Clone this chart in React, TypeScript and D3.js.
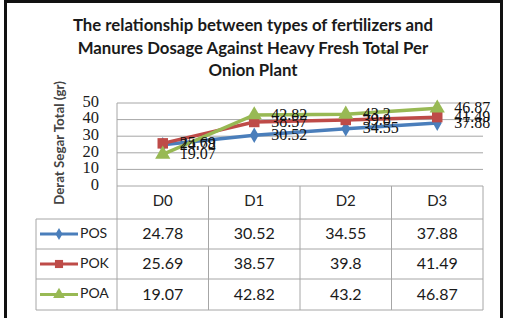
import React, { useEffect } from "react";
import * as d3 from "d3";

const categories = ["D0", "D1", "D2", "D3"];
const seriesNames = ["POS", "POK", "POA"];
const posValues = [24.78, 30.52, 34.55, 37.88];
const pokValues = [25.69, 38.57, 39.8, 41.49];
const poaValues = [19.07, 42.82, 43.2, 46.87];
const yTicks = [0, 10, 20, 30, 40, 50];
const titleLines = [
  "The relationship between types of fertilizers and",
  "Manures Dosage Against Heavy Fresh Total Per",
  "Onion Plant",
];

const colors = ["#4a7ebb", "#be4b48", "#98b954"];
const symbols = [d3.symbolDiamond, d3.symbolSquare, d3.symbolTriangle];
const symbolSizes = [70, 110, 100];

const width = 505;
const height = 318;
const plotLeft = 117;
const plotRight = 483;
const plotTop = 103;
const plotBottom = 186;
const rowLines = [186, 219, 249, 279, 310];
const tableLeft = 36;

const App = () => {
  useEffect(() => {
    document.body.style.margin = "0";
  }, []);

  const series = [posValues, pokValues, poaValues];

  const x = d3.scaleBand().domain(categories).range([plotLeft, plotRight]).padding(0);
  const y = d3.scaleLinear().domain([0, 50]).range([plotBottom, plotTop]);
  const cx = (c: string) => (x(c) as number) + x.bandwidth() / 2;

  const line = d3
    .line<number>()
    .x((_, i) => cx(categories[i]))
    .y((d) => y(d));

  const gridColor = "#a6a6a6";
  const serif = "'Liberation Serif', serif";
  const sans = "Lato, 'Open Sans', sans-serif";

  return (
    <svg width={width} height={height} style={{ display: "block", background: "#fff" }}>
      {/* frame */}
      <path d={`M5.5,${height} V1.5 H501.5 V${height}`} fill="none" stroke="#111" strokeWidth={3} />

      {/* title */}
      {titleLines.map((t, i) => (
        <text
          key={i}
          x={253}
          y={31 + i * 22.5}
          textAnchor="middle"
          fontFamily={sans}
          fontWeight="bold"
          fontSize={16.8}
          fill="#1a1a1a"
        >
          {t}
        </text>
      ))}

      {/* y axis title */}
      <text
        transform={`translate(64,143) rotate(-90)`}
        textAnchor="middle"
        fontFamily={sans}
        fontSize={13.3}
        fontWeight="bold"
        fill="#444"
      >
        Derat Segar Total (gr)
      </text>

      {/* gridlines + y ticks */}
      {yTicks.map((t) => (
        <g key={t}>
          <line x1={plotLeft} x2={plotRight} y1={y(t)} y2={y(t)} stroke={gridColor} strokeWidth={1} />
          <text
            x={99}
            y={y(t)}
            textAnchor="end"
            dominantBaseline="middle"
            fontFamily={serif}
            fontSize={16.5}
            fill="#1a1a1a"
          >
            {t}
          </text>
        </g>
      ))}

      {/* data table */}
      <g stroke={gridColor} strokeWidth={1} fill="none">
        <line x1={plotLeft} x2={plotLeft} y1={plotTop} y2={rowLines[4]} />
        {rowLines.slice(1).map((r) => (
          <line key={r} x1={tableLeft} x2={plotRight} y1={r} y2={r} />
        ))}
        <line x1={tableLeft} x2={tableLeft} y1={rowLines[1]} y2={rowLines[4]} />
        {categories.map((c) => (
          <line
            key={c}
            x1={(x(c) as number) + x.bandwidth()}
            x2={(x(c) as number) + x.bandwidth()}
            y1={plotBottom}
            y2={rowLines[4]}
          />
        ))}
      </g>
      {categories.map((c) => (
        <text
          key={c}
          x={cx(c)}
          y={(rowLines[0] + rowLines[1]) / 2}
          textAnchor="middle"
          dominantBaseline="middle"
          fontFamily={sans}
          fontSize={15}
          fill="#222"
        >
          {c}
        </text>
      ))}
      {series.map((vals, si) => {
        const rc = (rowLines[si + 1] + rowLines[si + 2]) / 2;
        return (
          <g key={si}>
            <line x1={40} x2={78} y1={rc} y2={rc} stroke={colors[si]} strokeWidth={3} />
            <path
              d={d3.symbol().type(symbols[si]).size(symbolSizes[si] * 0.6)() as string}
              transform={`translate(59,${rc})`}
              fill={colors[si]}
            />
            <text x={80} y={rc} dominantBaseline="middle" fontFamily={sans} fontSize={14} fill="#222">
              {seriesNames[si]}
            </text>
            {vals.map((v, i) => (
              <text
                key={i}
                x={cx(categories[i])}
                y={rc + 1}
                textAnchor="middle"
                dominantBaseline="middle"
                fontFamily={sans}
                fontSize={16}
                fill="#1a1a1a"
              >
                {String(v)}
              </text>
            ))}
          </g>
        );
      })}

      {/* lines */}
      {series.map((vals, si) => (
        <g key={si}>
          <path d={line(vals) as string} fill="none" stroke={colors[si]} strokeWidth={3.5} />
          {vals.map((v, i) => (
            <path
              key={i}
              d={d3.symbol().type(symbols[si]).size(symbolSizes[si])() as string}
              transform={`translate(${cx(categories[i])},${y(v)})`}
              fill={colors[si]}
            />
          ))}
        </g>
      ))}

      {/* data labels */}
      {series.map((vals, si) =>
        vals.map((v, i) => (
          <text
            key={`${si}-${i}`}
            x={cx(categories[i]) + 17}
            y={y(v) + 1}
            dominantBaseline="middle"
            fontFamily={serif}
            fontSize={16}
            fill="#111"
          >
            {String(v)}
          </text>
        ))
      )}
    </svg>
  );
};

export default App;
